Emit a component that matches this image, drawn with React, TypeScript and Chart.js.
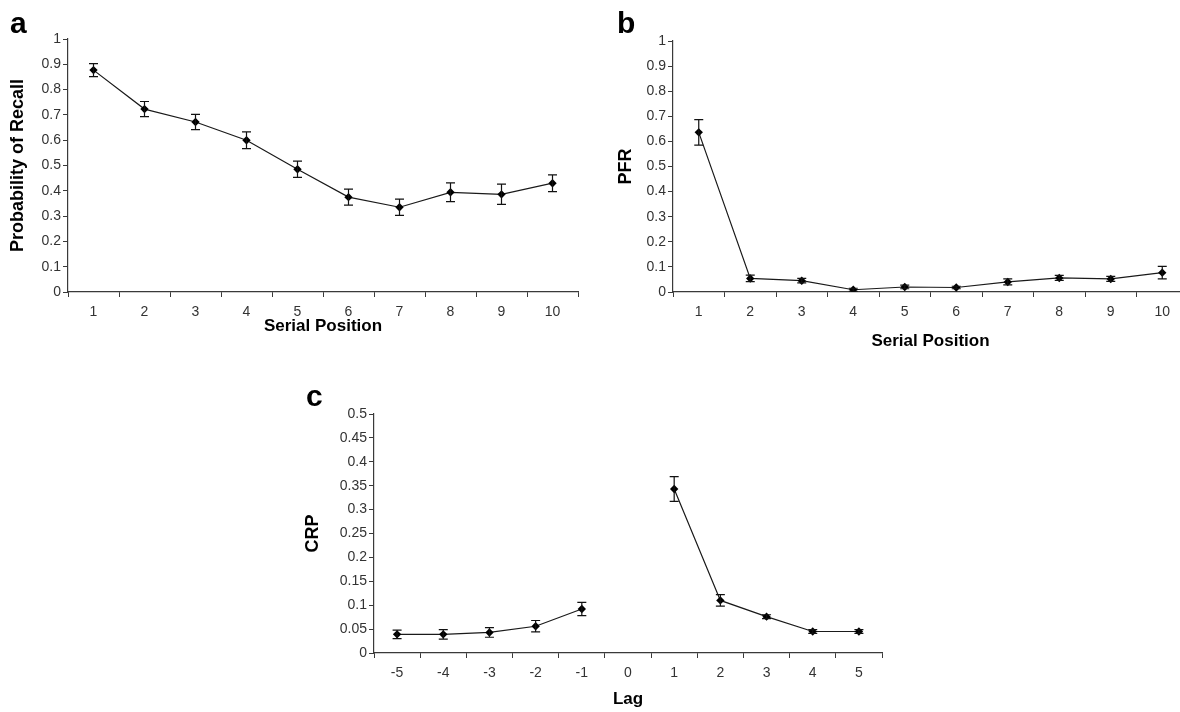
import React, { useEffect, useRef } from "react";
import { Chart, registerables } from "chart.js";

Chart.register(...registerables);

// ---- Data ----
const serialPositions = ["1", "2", "3", "4", "5", "6", "7", "8", "9", "10"];
const recallProb = [0.877, 0.723, 0.672, 0.6, 0.485, 0.375, 0.335, 0.394, 0.386, 0.43];
const recallErr = [0.026, 0.03, 0.03, 0.033, 0.032, 0.032, 0.032, 0.037, 0.04, 0.033];

const pfr = [0.636, 0.054, 0.045, 0.009, 0.02, 0.018, 0.04, 0.056, 0.052, 0.077];
const pfrErr = [0.051, 0.013, 0.009, 0.006, 0.007, 0.005, 0.012, 0.01, 0.01, 0.025];

const lags = ["-5", "-4", "-3", "-2", "-1", "0", "1", "2", "3", "4", "5"];
const crp = [0.039, 0.039, 0.043, 0.056, 0.092, null, 0.343, 0.11, 0.076, 0.045, 0.045];
const crpErr = [0.009, 0.01, 0.01, 0.012, 0.014, null, 0.026, 0.012, 0.004, 0.004, 0.004];

const FONT = "'Liberation Sans', Arial, sans-serif";
const AXIS_COLOR = "#3a3a3a";
const TEXT_COLOR = "#333333";

const errorBarPlugin = {
  id: "errorBars",
  afterDatasetsDraw(chart: any) {
    const ctx = chart.ctx;
    const yScale = chart.scales.y;
    chart.data.datasets.forEach((ds: any, di: number) => {
      const meta = chart.getDatasetMeta(di);
      const errs = ds.errors || [];
      meta.data.forEach((pt: any, i: number) => {
        const v = ds.data[i];
        const e = errs[i];
        if (v == null || e == null) return;
        const x = pt.x;
        const yTop = yScale.getPixelForValue(v + e);
        const yBot = yScale.getPixelForValue(v - e);
        ctx.save();
        ctx.strokeStyle = "#111";
        ctx.lineWidth = 1.2;
        ctx.beginPath();
        ctx.moveTo(x, yTop);
        ctx.lineTo(x, yBot);
        ctx.moveTo(x - 4.5, yTop);
        ctx.lineTo(x + 4.5, yTop);
        ctx.moveTo(x - 4.5, yBot);
        ctx.lineTo(x + 4.5, yBot);
        ctx.stroke();
        ctx.restore();
      });
    });
  },
};

type PanelCfg = {
  labels: string[];
  values: (number | null)[];
  errors: (number | null)[];
  yMax: number;
  yStep: number;
  yTitle: string;
  xTitle: string;
  yAxisWidth: number;
  yTitlePad: number;
  xAxisHeight: number;
  xTitlePad: number;
  padding: { top: number; right: number; left: number; bottom: number };
};

function Panel({ cfg, left, top, width, height }: { cfg: PanelCfg; left: number; top: number; width: number; height: number }) {
  const ref = useRef<HTMLCanvasElement>(null);
  useEffect(() => {
    if (!ref.current) return;
    const chart = new Chart(ref.current, {
      type: "line",
      data: {
        labels: cfg.labels,
        datasets: [
          {
            data: cfg.values as any,
            errors: cfg.errors,
            borderColor: "#1a1a1a",
            borderWidth: 1.2,
            backgroundColor: "#000",
            pointStyle: "rectRot",
            pointRadius: 4.2,
            pointBackgroundColor: "#000",
            pointBorderColor: "#000",
            pointBorderWidth: 0,
            spanGaps: false,
            tension: 0,
          } as any,
        ],
      },
      options: {
        animation: false,
        responsive: false,
        maintainAspectRatio: false,
        layout: { padding: cfg.padding },
        plugins: { legend: { display: false }, tooltip: { enabled: false } },
        scales: {
          x: {
            type: "category",
            offset: true,
            grid: {
              offset: true,
              drawOnChartArea: false,
              drawTicks: true,
              tickLength: 5,
              color: AXIS_COLOR,
              lineWidth: 1,
            },
            border: { display: true, color: AXIS_COLOR, width: 1.2 },
            ticks: {
              color: TEXT_COLOR,
              font: { family: FONT, size: 14 },
              padding: 7,
              maxRotation: 0,
              autoSkip: false,
            },
            title: {
              display: true,
              text: cfg.xTitle,
              color: "#000",
              font: { family: FONT, size: 17, weight: "bold" },
              padding: { top: 0, bottom: cfg.xTitlePad },
            },
            afterFit: (s: any) => {
              s.height = cfg.xAxisHeight;
            },
          },
          y: {
            type: "linear",
            min: 0,
            max: cfg.yMax,
            grid: {
              drawOnChartArea: false,
              drawTicks: true,
              tickLength: 5,
              color: AXIS_COLOR,
              lineWidth: 1,
            },
            border: { display: true, color: AXIS_COLOR, width: 1.2 },
            ticks: {
              stepSize: cfg.yStep,
              color: TEXT_COLOR,
              font: { family: FONT, size: 14 },
              padding: 2,
              callback: (v: any) => String(+Number(v).toFixed(2)),
            },
            title: {
              display: true,
              text: cfg.yTitle,
              color: "#000",
              font: { family: FONT, size: 18, weight: "bold" },
              padding: { top: cfg.yTitlePad, bottom: 0 },
            },
            afterFit: (s: any) => {
              s.width = cfg.yAxisWidth;
            },
          },
        },
      } as any,
      plugins: [errorBarPlugin],
    });
    return () => chart.destroy();
  }, []);
  return (
    <canvas
      ref={ref}
      width={width}
      height={height}
      style={{ position: "absolute", left, top, width, height }}
    />
  );
}

const panelA: PanelCfg = {
  labels: serialPositions,
  values: recallProb,
  errors: recallErr,
  yMax: 1,
  yStep: 0.1,
  yTitle: "Probability of Recall",
  xTitle: "Serial Position",
  yAxisWidth: 68,
  yTitlePad: 7,
  xAxisHeight: 53,
  xTitlePad: 8,
  padding: { top: 39, right: 22, left: 0, bottom: 0 },
};

const panelB: PanelCfg = {
  labels: serialPositions,
  values: pfr,
  errors: pfrErr,
  yMax: 1,
  yStep: 0.1,
  yTitle: "PFR",
  xTitle: "Serial Position",
  yAxisWidth: 68,
  yTitlePad: 10,
  xAxisHeight: 68,
  xTitlePad: 8,
  padding: { top: 41, right: 17, left: 0, bottom: 0 },
};

const panelC: PanelCfg = {
  labels: lags,
  values: crp,
  errors: crpErr,
  yMax: 0.5,
  yStep: 0.05,
  yTitle: "CRP",
  xTitle: "Lag",
  yAxisWidth: 84,
  yTitlePad: 12,
  xAxisHeight: 59,
  xTitlePad: 2,
  padding: { top: 44, right: 24, left: 0, bottom: 0 },
};

const letterStyle = (left: number, top: number): React.CSSProperties => ({
  position: "absolute",
  left,
  top,
  fontFamily: FONT,
  fontWeight: "bold",
  fontSize: 30,
  lineHeight: "30px",
  color: "#000",
});

export default function App() {
  return (
    <div
      style={{
        position: "fixed",
        left: 0,
        top: 0,
        width: 1180,
        height: 712,
        overflow: "hidden",
        background: "#fff",
      }}
    >
      <Panel cfg={panelA} left={0} top={0} width={600} height={345} />
      <Panel cfg={panelB} left={605} top={0} width={600} height={360} />
      <Panel cfg={panelC} left={290} top={370} width={616} height={342} />
      <div style={letterStyle(10, 8)}>a</div>
      <div style={letterStyle(617, 8)}>b</div>
      <div style={letterStyle(306, 381)}>c</div>
    </div>
  );
}
